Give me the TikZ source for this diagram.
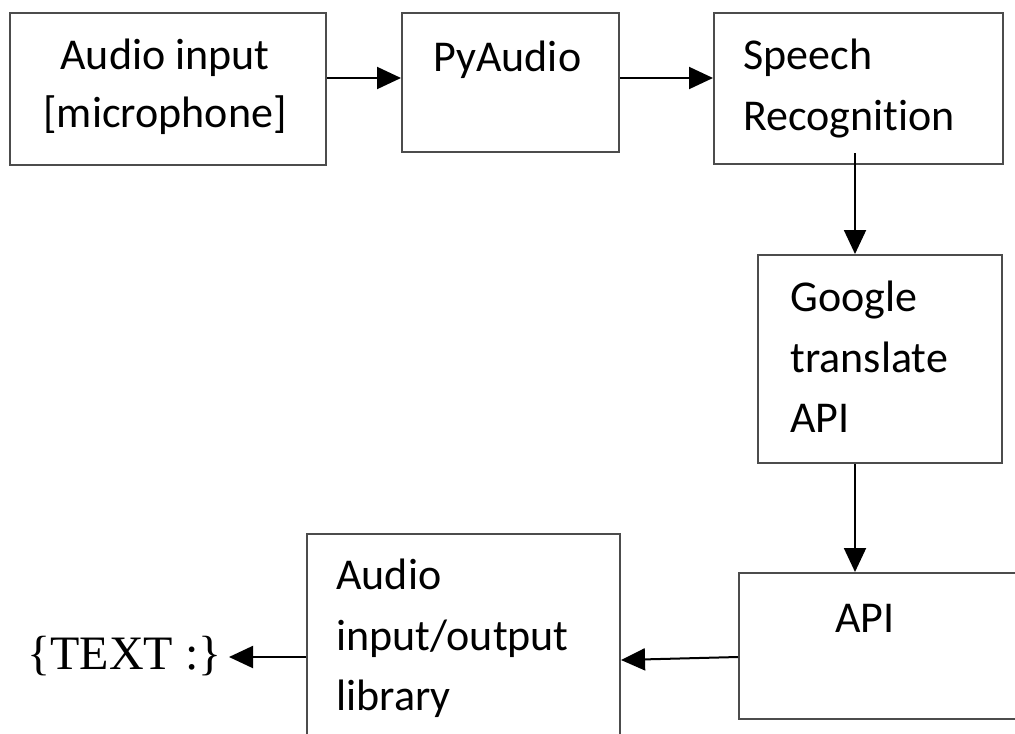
\documentclass[tikz,border=0pt]{standalone}
\usepackage{fontspec}
\setmainfont[Ligatures=NoCommon]{Carlito}
\newfontfamily\timesfont{Liberation Serif}
\usetikzlibrary{shapes,arrows,arrows.meta,fit}

\begin{document}
\begin{tikzpicture}[x=0.5pt,y=-0.5pt,
    block/.style={draw=black!70,line width=1pt,inner sep=0pt},
    boxtxt/.style={inner sep=0pt,font=\fontsize{22}{30.25}\selectfont},
    flow/.style={-{Triangle[length=12pt,width=11pt]},line width=1pt}]
    \clip (0,0) rectangle (1015,733);
    \pgfmathsetmacro{\colx}{855}
    \coordinate (row1) at (0,78);
    \coordinate (row3) at (0,657);
    \coordinate (row3b) at (0,660);
    \coordinate (col) at (\colx,0);

    % Draw the blocks
    \node [block,fit={(10,13) (326,165)}] (mic) {};
    \node [block,fit={(402,13) (619,152)}] (pyaudio) {};
    \node [block,fit={(714,13) (1003,164)}] (speech) {};
    \node [block,fit={(758,255) (1002,463)}] (gtrans) {};
    \node [block,fit={(739,573) (1030,719)}] (api) {};
    \node [block,fit={(307,534) (620,770)}] (iolib) {};

    % Block texts
    \node [boxtxt,font=\fontsize{22}{29}\selectfont,align=center,anchor=north] (mictxt) at (165,39) {Audio input\\{[microphone]}};
    \node [boxtxt,anchor=base west] (pytxt) at (433,72) {PyAudio};
    \node [boxtxt,align=left,anchor=north west] (speechtxt) at (743,39) {Speech\\Recognition};
    \node [boxtxt,align=left,anchor=north west] (gtranstxt) at (790,281) {Google\\translate\\API};
    \node [boxtxt,anchor=base] (apitxt) at (865,632) {API};
    \node [boxtxt,align=left,anchor=north west] (iolibtxt) at (336,559) {Audio\\input/output\\library};
    \node [inner sep=0pt,inner xsep=3.5pt,anchor=base east,font=\timesfont\fontsize{24}{29}\selectfont] (out) at (229,669) {\{TEXT :\}};

    % Connectors
    \draw [flow] (mic.east |- row1) -- (pyaudio.west |- row1);
    \draw [flow] (pyaudio.east |- row1) -- (speech.west |- row1);
    \draw [flow] ([yshift=6pt]speech.south -| col) -- (gtrans.north -| col);
    \draw [flow] (gtrans.south -| col) -- (api.north -| col);
    \draw [flow] (api.west |- row3) -- (iolib.east |- row3b);
    \draw [flow] (iolib.west |- row3) -- (out.east |- row3);
\end{tikzpicture}
\end{document}
